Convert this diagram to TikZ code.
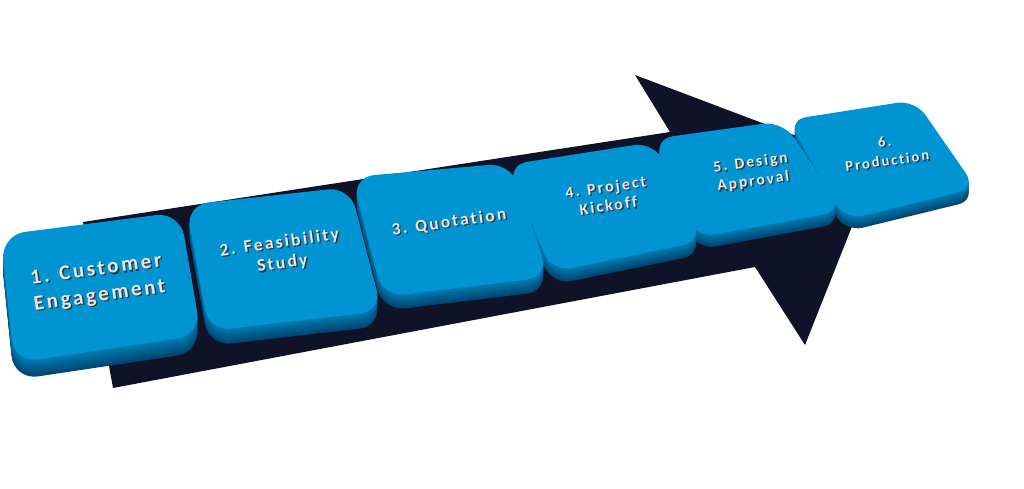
\documentclass[tikz,border=0pt]{standalone}
\usepackage{fontspec}
\newfontfamily\keyfont{Carlito}[LetterSpace=13, Ligatures=NoCommon]
\usetikzlibrary{calc}

\definecolor{arrownavy}{RGB}{16,19,40}
\definecolor{keytop}{RGB}{0,148,210}
\definecolor{keymid}{RGB}{0,124,180}
\definecolor{keydark}{RGB}{0,70,112}
\definecolor{keyink}{RGB}{230,231,234}
\definecolor{keyshade}{RGB}{50,52,60}

% one line of key text with its drop shadow
\newcommand{\shline}[1]{%
  \rlap{\kern1.3pt\raisebox{-1.3pt}{\textcolor{keyshade}{#1}}}#1}

\begin{document}
\begin{tikzpicture}[x=1pt, y=-1pt,
    keyface/.style={fill=keytop},
    keytext/.style 2 args={text=keyink, align=center, rotate=8,
      inner sep=0pt, font=\keyfont\bfseries\fontsize{#1}{#2}\selectfont}]

    \useasboundingbox (0,0) rectangle (1024,489);

    % Dark arrow behind the keys
    \fill[arrownavy] (83,222) -- (670,132) -- (635,75) -- (876,166) --
    (805,345) -- (755,267) -- (113,388) -- cycle;

    % Corners of the key tops
    \coordinate (a1) at (1,235); \coordinate (b1) at (180,212);
    \coordinate (c1) at (201,335); \coordinate (d1) at (14,363);
    \coordinate (a2) at (186,205); \coordinate (b2) at (350,187);
    \coordinate (c2) at (382,311); \coordinate (d2) at (209,331);
    \coordinate (a3) at (352,177); \coordinate (b3) at (511,163);
    \coordinate (c3) at (549,277); \coordinate (d3) at (383,297);
    \coordinate (a4) at (507,165); \coordinate (b4) at (654,142);
    \coordinate (c4) at (703,241); \coordinate (d4) at (552,272);
    \coordinate (a5) at (653,139); \coordinate (b5) at (783,121);
    \coordinate (c5) at (843,211); \coordinate (d5) at (696,238);
    \coordinate (a6) at (788,120); \coordinate (b6) at (915,100);
    \coordinate (c6) at (976,188); \coordinate (d6) at (845,220);

    % Keys, back to front: side layers, then the top face
    \foreach \k/\t/\r in {6/12/18,5/12/20,4/13/20,3/14/22,2/15/22,1/17/24}{
      \foreach \s in {\t,...,1}{
        \pgfmathtruncatemacro\p{100*\s/\t}
        \fill[keydark!\p!keymid, rounded corners=\r pt] ($(a\k)+(0,\s)$) --
        ($(b\k)+(0,\s)$) -- ($(c\k)+(0,\s)$) -- ($(d\k)+(0,\s)$) -- cycle;
      }
      \fill[keyface, rounded corners=\r pt] (a\k) -- (b\k) -- (c\k) --
      (d\k) -- cycle;
    }

    % Labels on the keys
    \node[keytext={21}{26}] (s1) at (98,284)
    {\shline{1. Customer}\\\shline{Engagement}};
    \node[keytext={17.5}{21}] (s2) at (281,254)
    {\shline{2. Feasibility}\\\shline{Study}};
    \node[keytext={17.3}{21}] (s3) at (449,223) {\shline{3. Quotation}};
    \node[keytext={16}{19}] (s4) at (607,197)
    {\shline{4. Project}\\\shline{Kickoff}};
    \node[keytext={15.5}{19}] (s5) at (752,173)
    {\shline{5. Design}\\\shline{Approval}};
    \node[keytext={14.7}{19}] (s6) at (886,152)
    {\shline{6.}\\\shline{Production}};

\end{tikzpicture}
\end{document}
